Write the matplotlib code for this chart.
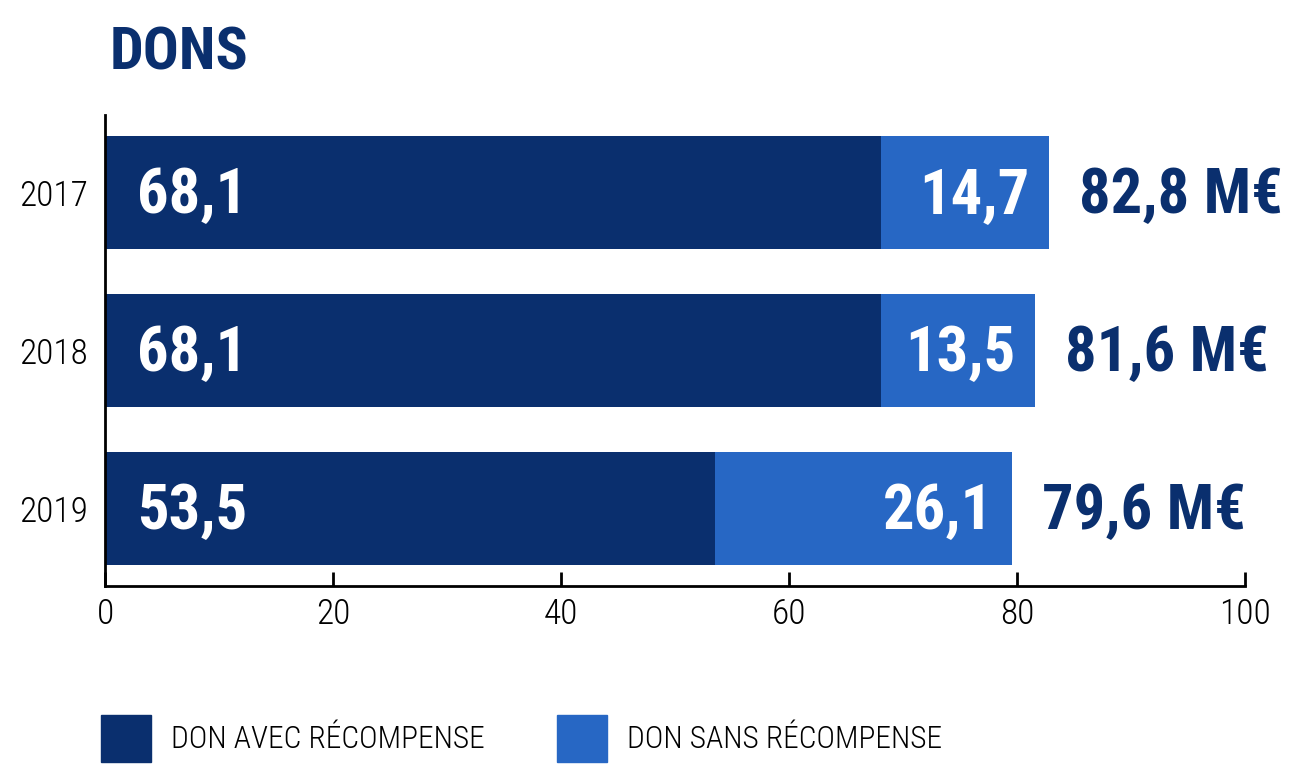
import matplotlib
matplotlib.use("Agg")
import matplotlib.pyplot as plt
from matplotlib.patches import Patch

# condensed faces first if present, else Roboto (narrower than DejaVu)
plt.rcParams['font.family'] = ['Roboto Condensed', 'DejaVu Sans Condensed',
                               'Liberation Sans Narrow', 'Roboto', 'DejaVu Sans']

years = ["2017", "2018", "2019"]
avec = [68.1, 68.1, 53.5]
sans = [14.7, 13.5, 26.1]
totals = ["82,8 M€", "81,6 M€", "79,6 M€"]
series_names = ["DON AVEC RÉCOMPENSE", "DON SANS RÉCOMPENSE"]
xticks = [0, 20, 40, 60, 80, 100]

dark = "#0a2f6e"
light = "#2767c4"

fig = plt.figure(figsize=(12.9, 7.64), dpi=100)
ax = fig.add_axes([0.0814, 0.233, 0.8837, 0.6165])

ypos = list(range(len(years)))
ax.barh(ypos, avec, height=0.72, color=dark)
ax.barh(ypos, sans, left=avec, height=0.72, color=light)

for i in ypos:
    total = avec[i] + sans[i]
    ax.text(2.8, i + 0.02, f"{avec[i]:.1f}".replace(".", ","), color="white",
            fontsize=45, fontweight="bold", va="center", ha="left")
    ax.text(total - 1.7, i + 0.02, f"{sans[i]:.1f}".replace(".", ","), color="white",
            fontsize=45, fontweight="bold", va="center", ha="right")
    ax.text(total + 2.6, i + 0.02, totals[i], color=dark,
            fontsize=45, fontweight="bold", va="center", ha="left",
            clip_on=False)

ax.set_xlim(0, 100)
ax.set_ylim(2.49, -0.49)
ax.set_xticks(xticks)
ax.set_xticklabels([str(x) for x in xticks], fontsize=25.5, fontweight="light")
ax.set_yticks(ypos)
ax.set_yticklabels(years, fontsize=25.5, fontweight="light")
ax.tick_params(axis="x", direction="in", length=10, width=2, pad=8)
ax.tick_params(axis="y", length=0, pad=12)
for s in ["top", "right"]:
    ax.spines[s].set_visible(False)
ax.spines["left"].set_linewidth(2)
ax.spines["bottom"].set_linewidth(2)

fig.text(0.085, 0.93, "DONS", color=dark, fontsize=43, fontweight="bold",
         va="center", ha="left")

handles = [Patch(color=dark), Patch(color=light)]
fig.legend(handles, series_names, loc="lower left",
           bbox_to_anchor=(101 / 1290, 2 / 764),
           ncol=2, frameon=False, borderpad=0, borderaxespad=0,
           handlelength=1.58, handleheight=1.95,
           handletextpad=0.65, columnspacing=2.3,
           prop={"size": 22.6, "weight": "light"})

fig.savefig("out.png", dpi=100)
